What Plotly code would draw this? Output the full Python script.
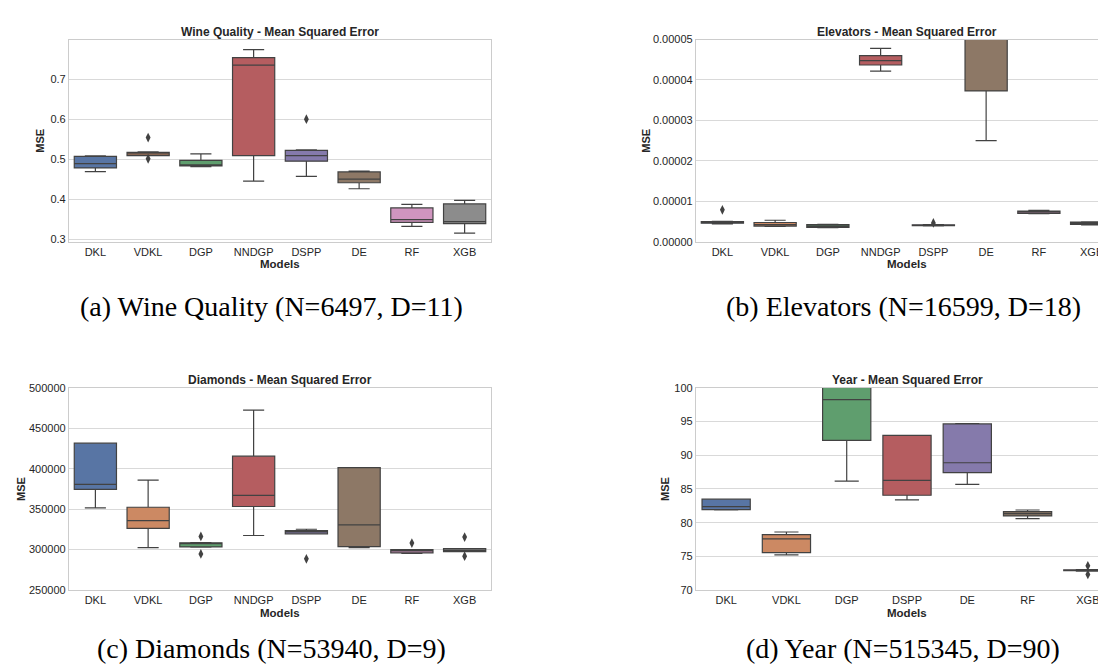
import plotly.graph_objects as go

# ---------------- data ----------------
models8 = ["DKL", "VDKL", "DGP", "NNDGP", "DSPP", "DE", "RF", "XGB"]
models7 = ["DKL", "VDKL", "DGP", "DSPP", "DE", "RF", "XGB"]

# Wine Quality (a)
wine_q1 = [0.478, 0.509, 0.483, 0.509, 0.495, 0.441, 0.342, 0.339]
wine_med = [0.489, 0.513, 0.485, 0.735, 0.509, 0.450, 0.349, 0.344]
wine_q3 = [0.507, 0.517, 0.497, 0.754, 0.522, 0.468, 0.378, 0.388]
wine_lo = [0.469, 0.509, 0.481, 0.445, 0.457, 0.426, 0.332, 0.315]
wine_hi = [0.508, 0.518, 0.513, 0.774, 0.523, 0.470, 0.387, 0.397]
wine_out_x = ["VDKL", "VDKL", "DSPP"]
wine_out_y = [0.554, 0.501, 0.600]

# Elevators (b)
elev_q1 = [4.6e-6, 3.9e-6, 3.55e-6, 4.37e-5, 4.0e-6, 3.73e-5, 7.0e-6, 4.3e-6]
elev_med = [4.8e-6, 4.27e-6, 3.86e-6, 4.48e-5, 4.1e-6, 5.4e-5, 7.3e-6, 4.6e-6]
elev_q3 = [5.0e-6, 4.77e-6, 4.27e-6, 4.60e-5, 4.2e-6, 7.0e-5, 7.6e-6, 4.9e-6]
elev_lo = [4.45e-6, 3.8e-6, 3.5e-6, 4.22e-5, 3.95e-6, 2.50e-5, 6.95e-6, 4.2e-6]
elev_hi = [5.05e-6, 5.33e-6, 4.3e-6, 4.78e-5, 4.25e-6, 9.0e-5, 7.8e-6, 4.95e-6]
elev_out_x = ["DKL", "DSPP"]
elev_out_y = [7.9e-6, 4.67e-6]

# Diamonds (c)
diam_q1 = [374500, 326400, 303300, 353300, 319500, 303700, 296000, 297600]
diam_med = [380700, 335800, 307500, 367100, 322000, 330500, 298400, 299200]
diam_q3 = [431600, 352400, 308500, 415500, 323600, 401300, 300000, 301200]
diam_lo = [351600, 302400, 303000, 317500, 319500, 302400, 295500, 297400]
diam_hi = [431700, 385900, 308700, 472500, 325200, 401500, 300200, 301400]
diam_out_x = ["DGP", "DGP", "DSPP", "RF", "XGB", "XGB"]
diam_out_y = [316300, 294700, 288600, 308100, 315500, 291900]

# Year (d)
year_q1 = [81.93, 75.55, 92.21, 84.07, 87.43, 81.00, 72.87]
year_med = [82.37, 77.59, 98.25, 86.26, 88.89, 81.34, 72.95]
year_q3 = [83.49, 78.23, 101.5, 92.94, 94.64, 81.64, 73.00]
year_lo = [81.90, 75.21, 86.17, 83.39, 85.68, 80.61, 72.80]
year_hi = [83.50, 78.62, 104.0, 92.95, 94.70, 81.88, 73.05]
year_out_x = ["XGB", "XGB"]
year_out_y = [73.6, 72.33]

wine_ticks = [0.3, 0.4, 0.5, 0.6, 0.7]
wine_ticktext = ["0.3", "0.4", "0.5", "0.6", "0.7"]
elev_ticks = [0, 1e-5, 2e-5, 3e-5, 4e-5, 5e-5]
elev_ticktext = ["0.00000", "0.00001", "0.00002", "0.00003", "0.00004", "0.00005"]
diam_ticks = [250000, 300000, 350000, 400000, 450000, 500000]
diam_ticktext = ["250000", "300000", "350000", "400000", "450000", "500000"]
year_ticks = [70, 75, 80, 85, 90, 95, 100]
year_ticktext = ["70", "75", "80", "85", "90", "95", "100"]

titles = ["Wine Quality - Mean Squared Error", "Elevators - Mean Squared Error",
          "Diamonds - Mean Squared Error", "Year - Mean Squared Error"]
captions = ["(a) Wine Quality (N=6497, D=11)", "(b) Elevators (N=16599, D=18)",
            "(c) Diamonds (N=53940, D=9)", "(d) Year (N=515345, D=90)"]

palette = ["#5875a4", "#cc8963", "#5f9e6e", "#b55d60", "#857aab", "#8d7866", "#d095bf", "#8c8c8c"]

# ---------------- layout geometry (pixels) ----------------
W, H = 1106, 664
LINE = "#424242"
GRID = "#d9d9d9"
TXT = "#262626"
SANS = "Liberation Sans, Arial, sans-serif"
SERIF = "Liberation Serif, Times New Roman, serif"


def px_x(v):
    return v / W


def px_y(v):
    return 1 - v / H


panels = [
    dict(cats=models8, q1=wine_q1, med=wine_med, q3=wine_q3, lo=wine_lo, hi=wine_hi,
         ox=wine_out_x, oy=wine_out_y, ticks=wine_ticks, ticktext=wine_ticktext,
         yr=[0.2934, 0.799], x0=61, x1=483, y0=26, y1=232, full=True),
    dict(cats=models8, q1=elev_q1, med=elev_med, q3=elev_q3, lo=elev_lo, hi=elev_hi,
         ox=elev_out_x, oy=elev_out_y, ticks=elev_ticks, ticktext=elev_ticktext,
         yr=[0, 5e-5], x0=688, x1=1110, y0=26, y1=232, full=False),
    dict(cats=models8, q1=diam_q1, med=diam_med, q3=diam_q3, lo=diam_lo, hi=diam_hi,
         ox=diam_out_x, oy=diam_out_y, ticks=diam_ticks, ticktext=diam_ticktext,
         yr=[250000, 500000], x0=61, x1=483, y0=380.7, y1=586.7, full=True),
    dict(cats=models7, q1=year_q1, med=year_med, q3=year_q3, lo=year_lo, hi=year_hi,
         ox=year_out_x, oy=year_out_y, ticks=year_ticks, ticktext=year_ticktext,
         yr=[70, 100], x0=688, x1=1110, y0=380.7, y1=586.7, full=False),
]

fig = go.Figure()
layout = dict(width=W, height=H, margin=dict(l=0, r=0, t=0, b=0),
              paper_bgcolor="white", plot_bgcolor="white", showlegend=False,
              boxmode="overlay")
annotations = []

for i, p in enumerate(panels):
    n = len(p["cats"])
    xa = "x" if i == 0 else f"x{i+1}"
    ya = "y" if i == 0 else f"y{i+1}"
    xkey = "xaxis" if i == 0 else f"xaxis{i+1}"
    ykey = "yaxis" if i == 0 else f"yaxis{i+1}"
    for j, c in enumerate(p["cats"]):
        fig.add_trace(go.Box(
            x=[c], q1=[p["q1"][j]], median=[p["med"][j]], q3=[p["q3"][j]],
            lowerfence=[p["lo"][j]], upperfence=[p["hi"][j]],
            fillcolor=palette[j], line=dict(color=LINE, width=1.2),
            width=0.8, whiskerwidth=0.5, boxpoints=False,
            xaxis=xa, yaxis=ya, hoverinfo="skip"))
    fig.add_trace(go.Scatter(
        x=p["ox"], y=p["oy"], mode="markers",
        marker=dict(symbol="diamond-tall", size=7, color=LINE),
        xaxis=xa, yaxis=ya, hoverinfo="skip"))

    # full axis span in px corresponds to category range [-0.5, n-0.5]
    x_end_px = min(p["x1"], W)
    spacing = (p["x1"] - p["x0"]) / n
    xr = [-0.5, -0.5 + (x_end_px - p["x0"]) / spacing]
    layout[xkey] = dict(
        domain=[px_x(p["x0"]), px_x(x_end_px)], range=xr, type="category",
        categoryorder="array", categoryarray=p["cats"],
        showgrid=False, zeroline=False, showline=True, linecolor="#cccccc",
        linewidth=1.2, mirror=True, ticks="", anchor=ya,
        tickfont=dict(family=SANS, size=11, color=TXT))
    layout[ykey] = dict(
        domain=[px_y(p["y1"]), px_y(p["y0"])], range=p["yr"],
        tickvals=p["ticks"], ticktext=p["ticktext"],
        showgrid=True, gridcolor=GRID, gridwidth=1.2, zeroline=False,
        showline=True, linecolor="#cccccc", linewidth=1.2, mirror=p["full"],
        ticks="", anchor=xa, tickfont=dict(family=SANS, size=11, color=TXT))

    cx = (p["x0"] + p["x1"]) / 2
    annotations.append(dict(text=f"<b>{titles[i]}</b>", x=px_x(cx), y=px_y(p["y0"] - 8),
                            xref="paper", yref="paper", showarrow=False,
                            xanchor="center", yanchor="middle",
                            font=dict(family=SANS, size=12, color=TXT)))
    annotations.append(dict(text="<b>Models</b>", x=px_x(cx), y=px_y(p["y1"] + 23),
                            xref="paper", yref="paper", showarrow=False,
                            xanchor="center", yanchor="middle",
                            font=dict(family=SANS, size=11.5, color=TXT)))

# y-axis labels
mse_pos = [(32, 129), (638, 129), (13, 483.7), (657, 483.7)]
for (mx, my) in mse_pos:
    annotations.append(dict(text="<b>MSE</b>", x=px_x(mx), y=px_y(my), xref="paper",
                            yref="paper", showarrow=False, textangle=-90,
                            xanchor="center", yanchor="middle",
                            font=dict(family=SANS, size=11, color=TXT)))

# caption box bottoms (px)
cap_pos = [(263, 315), (895, 315), (263, 663), (895, 663)]
for cap, (cx, cy) in zip(captions, cap_pos):
    annotations.append(dict(text=cap, x=px_x(cx), y=px_y(cy), xref="paper", yref="paper",
                            showarrow=False, xanchor="center", yanchor="bottom",
                            borderpad=0,
                            font=dict(family=SERIF, size=28, color="#000000")))

layout["annotations"] = annotations
fig.update_layout(**layout)
fig.write_html("out.html")
